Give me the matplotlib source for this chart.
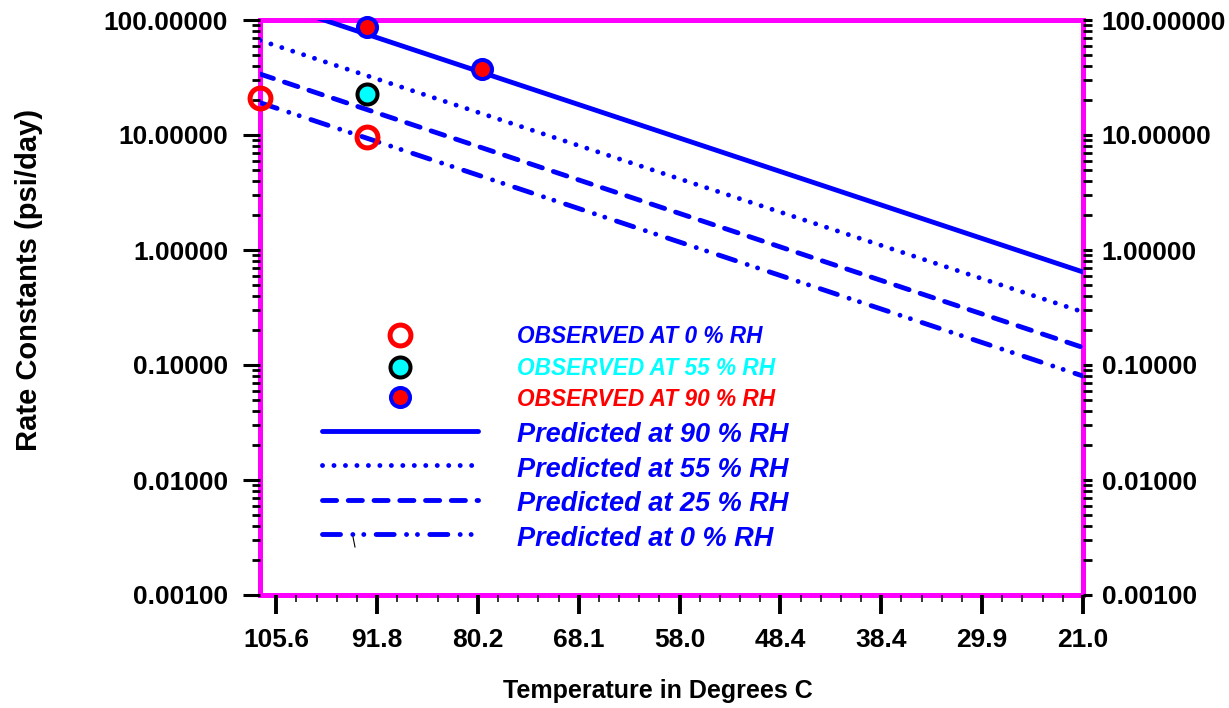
import numpy as np
import matplotlib.pyplot as plt
from matplotlib.ticker import LogLocator, FormatStrFormatter, NullFormatter

plt.rcParams['font.family'] = ['Liberation Sans', 'DejaVu Sans']
plt.rcParams['font.weight'] = 'bold'

# temperature tick labels (deg C) on the 1000/T axis
tick_temps = [105.6, 91.8, 80.2, 68.1, 58.0, 48.4, 38.4, 29.9, 21.0]

# observed rate constants (psi/day)
obs0_temp = [107.8, 93.7]
obs0_rate = [20.8, 9.7]
obs55_temp = [93.7]
obs55_rate = [22.7]
obs90_temp = [93.7, 79.7]
obs90_rate = [87.0, 37.5]

# predicted Arrhenius lines, rate at the hot and cold ends of the range
pred_temp = [107.8, 21.0]
pred90 = [153.0, 0.644]
pred55 = [66.5, 0.289]
pred25 = [33.9, 0.142]
pred0 = [19.1, 0.0802]

BLUE = '#0000ff'
MAGENTA = '#ff00ff'


def inv(t):
    return 1000.0 / (np.asarray(t, dtype=float) + 273.15)


fig = plt.figure(figsize=(12.29, 7.08), dpi=100)
W, H = 1229, 708
L, R, T, B = 260, 1083, 20, 595
ax = fig.add_axes([L / W, 1 - B / H, (R - L) / W, (B - T) / H])

# line styles
lw = 3.5
styles = {
    '90': dict(ls='-', solid_capstyle='round'),
    '55': dict(ls=(0, (0.01, 2.35)), dash_capstyle='round'),
    '25': dict(ls=(0, (2.9, 2.4)), dash_capstyle='round'),
    '0': dict(ls=(0, (3.7, 2.54, 0.01, 2.24, 0.01, 2.54)), dash_capstyle='round'),
}

px = inv(pred_temp)
ax.plot(px, pred90, color=BLUE, lw=lw, zorder=2, **styles['90'])
ax.plot(px, pred55, color=BLUE, lw=lw, zorder=2, **styles['55'])
ax.plot(px, pred25, color=BLUE, lw=lw, zorder=2, **styles['25'])
ax.plot(px, pred0, color=BLUE, lw=lw, zorder=2, **styles['0'])

m0 = dict(marker='o', ms=15, mew=3.6, mec='red', mfc='none', ls='none')
m55 = dict(marker='o', ms=14.4, mew=2.9, mec='black', mfc='cyan', ls='none')
m90 = dict(marker='o', ms=13.7, mew=2.9, mec=BLUE, mfc='red', ls='none')
ax.plot(inv(obs0_temp), obs0_rate, clip_on=False, zorder=4, **m0)
ax.plot(inv(obs55_temp), obs55_rate, clip_on=False, zorder=4, **m55)
ax.plot(inv(obs90_temp), obs90_rate, clip_on=False, zorder=4, **m90)

# axes
ax.set_yscale('log')
ax.set_ylim(0.001, 100)
ax.set_xlim(inv(pred_temp[0]), inv(pred_temp[1]))

tick_x = np.linspace(inv(tick_temps[0]), inv(tick_temps[-1]), len(tick_temps))
ax.set_xticks(tick_x, labels=[f'{t:.1f}' for t in tick_temps])
step = tick_x[1] - tick_x[0]
minor_x = [tick_x[0] + k * step / 5 for k in range(1, 5 * (len(tick_x) - 1)) if k % 5]
ax.set_xticks(minor_x, minor=True)

ax.yaxis.set_major_locator(LogLocator(base=10))
ax.yaxis.set_minor_locator(LogLocator(base=10, subs=np.arange(2, 10)))
ax.yaxis.set_major_formatter(FormatStrFormatter('%.5f'))
ax.yaxis.set_minor_formatter(NullFormatter())

ax.tick_params(axis='x', which='major', direction='out', length=13.7, width=2.8,
               pad=10, labelsize=19, top=False)
ax.tick_params(axis='x', which='minor', direction='out', length=5, width=1.1, top=False)
ax.tick_params(axis='y', which='major', direction='out', length=12, width=2.2,
               pad=11, labelsize=19, right=False)
ax.tick_params(axis='y', which='minor', direction='out', length=6, width=2.0, right=False)

for s in ax.spines.values():
    s.set_color(MAGENTA)
    s.set_linewidth(3.6)
    s.set_zorder(1)

# right-hand scale
ax2 = ax.twinx()
ax2.set_yscale('log')
ax2.set_ylim(0.001, 100)
ax2.yaxis.set_major_locator(LogLocator(base=10))
ax2.yaxis.set_minor_locator(LogLocator(base=10, subs=np.arange(2, 10)))
ax2.yaxis.set_major_formatter(FormatStrFormatter('%.5f'))
ax2.yaxis.set_minor_formatter(NullFormatter())
ax2.tick_params(axis='y', which='major', direction='out', length=6.5, width=2.2,
                pad=7, labelsize=19)
ax2.tick_params(axis='y', which='minor', direction='out', length=6.5, width=2.0)
for s in ax2.spines.values():
    s.set_visible(False)

ax.set_xlabel('Temperature in Degrees C', fontsize=18, fontweight='bold')
ax.xaxis.set_label_coords(0.483, -0.146)
ax.set_ylabel('Rate Constants (psi/day)', fontsize=21, fontweight='bold')
ax.yaxis.set_label_coords(-0.264, 0.548)


# key, placed in pixel positions inside the axes
def to_ax(x, y):
    return (x - L) / (R - L), (B - y) / (B - T)


for (y, m) in [(335, m0), (367, m55), (397, m90)]:
    ax.plot(*to_ax(400, y), transform=ax.transAxes, clip_on=False, zorder=4, **m)

for y, key in [(431, '90'), (465, '55'), (500, '25'), (534, '0')]:
    (x0, yy), (x1, _) = to_ax(322, y), to_ax(478, y)
    ax.plot([x0, x1], [yy, yy], color=BLUE, lw=lw, transform=ax.transAxes,
            zorder=2, **styles[key])

# stray mark below the last key line
(sx0, sy0), (sx1, sy1) = to_ax(353, 537), to_ax(355, 547)
ax.plot([sx0, sx1], [sy0, sy1], color='black', lw=0.8, transform=ax.transAxes)

obs_texts = [('OBSERVED AT 0 % RH', BLUE, 343),
             ('OBSERVED AT 55 % RH', 'cyan', 375),
             ('OBSERVED AT 90 % RH', 'red', 406)]
for s, c, y in obs_texts:
    ax.text(*to_ax(517, y), s, color=c, fontsize=16.3, fontweight='bold',
            fontstyle='italic', va='baseline', ha='left', transform=ax.transAxes)

pred_texts = [('Predicted at 90 % RH', 442), ('Predicted at 55 % RH', 477),
              ('Predicted at 25 % RH', 511), ('Predicted at 0 % RH', 546)]
for s, y in pred_texts:
    ax.text(*to_ax(517, y), s, color=BLUE, fontsize=19.5, fontweight='bold',
            fontstyle='italic', va='baseline', ha='left', transform=ax.transAxes)

fig.savefig('out.png', dpi=100)
